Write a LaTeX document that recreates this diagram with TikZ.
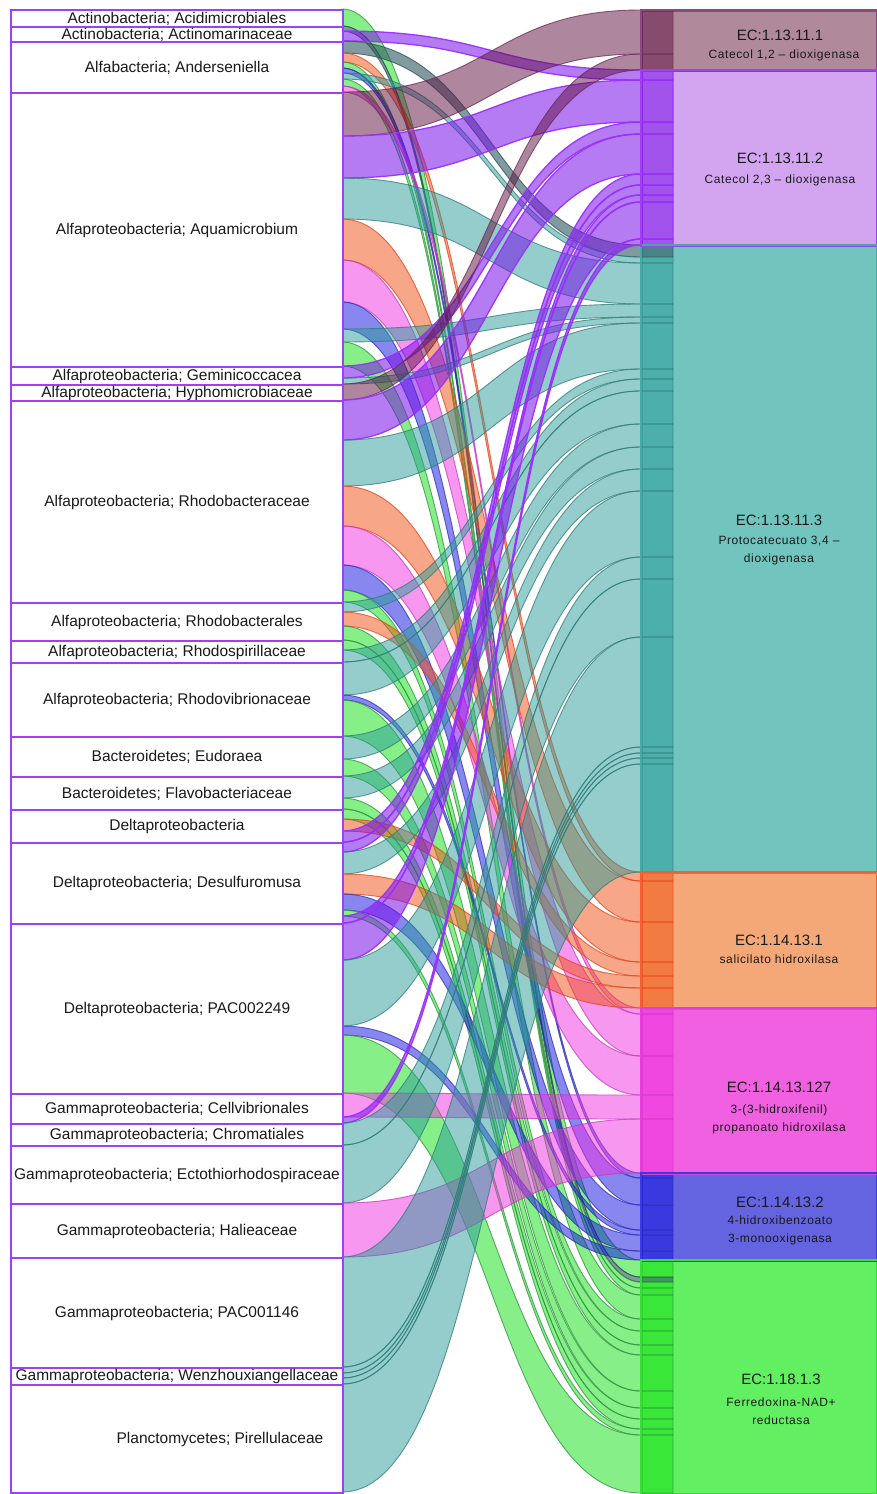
\documentclass[tikz,border=0pt]{standalone}
\usepackage{fontspec}
\setmainfont{Liberation Sans}
\newfontfamily\subfont[LetterSpace=5]{Liberation Sans}

% flow colours (drawn translucent) and their edge colours
\definecolor{cA}{HTML}{5F1040}\definecolor{eA}{HTML}{6A2A55}
\definecolor{cB}{HTML}{7A10E8}\definecolor{eB}{HTML}{9B30FF}
\definecolor{cC}{HTML}{2A9C9A}\definecolor{eC}{HTML}{2F7B78}
\definecolor{cD}{HTML}{F05010}\definecolor{eD}{HTML}{E8401A}
\definecolor{cE}{HTML}{F030E0}\definecolor{eE}{HTML}{C838C0}
\definecolor{cF}{HTML}{1010E0}\definecolor{eF}{HTML}{3030B8}
\definecolor{cG}{HTML}{10E010}\definecolor{eG}{HTML}{2F9040}
\definecolor{cS}{HTML}{2E5860}\definecolor{eS}{HTML}{2E5058}
% enzyme boxes
\definecolor{bA}{HTML}{B0899B}\definecolor{dA}{HTML}{8A4A80}
\definecolor{bB}{HTML}{D3A5F0}\definecolor{dB}{HTML}{A040F0}
\definecolor{bC}{HTML}{72C4BE}\definecolor{dC}{HTML}{4AA8A4}
\definecolor{bD}{HTML}{F4A878}\definecolor{dD}{HTML}{F0603A}
\definecolor{bE}{HTML}{F060E0}\definecolor{dE}{HTML}{E040D8}
\definecolor{bF}{HTML}{6464E0}\definecolor{dF}{HTML}{3C3CD8}
\definecolor{bG}{HTML}{62F062}\definecolor{dG}{HTML}{40D840}
\definecolor{taxline}{HTML}{A040F0}
\definecolor{txt}{HTML}{1A1A1A}

\tikzset{
  flow/.style={line width=0.9pt, fill opacity=0.5, draw opacity=0.75},
  fa/.style={flow, fill=cA, draw=eA},
  fb/.style={flow, fill=cB, draw=eB, line width=1.3pt, fill opacity=0.55, draw opacity=0.95},
  fc/.style={flow, fill=cC, draw=eC},
  fd/.style={flow, fill=cD, draw=eD},
  fe/.style={flow, fill=cE, draw=eE},
  ff/.style={flow, fill=cF, draw=eF},
  fg/.style={flow, fill=cG, draw=eG},
  slate/.style={fill=cS, draw=eS, fill opacity=0.6},
  taxbox/.style={draw=taxline, line width=2pt, fill=white, minimum width=332pt,
    inner sep=0pt, text=txt, font=\fontsize{15.5}{16}\selectfont},
  ecbox/.style={line width=1.5pt, minimum width=235pt, inner sep=0pt},
  ectitle/.style={text=txt, inner sep=0pt, font=\fontsize{15}{18}\selectfont},
  ecsub/.style={text=txt, inner sep=0pt, align=center, font=\subfont\fontsize{12}{18}\selectfont}
}

% running positions: one cursor for the current taxon, one per enzyme
\newcommand\startsrc[1]{\xdef\srccur{#1}}
\newcommand\settgt[2]{\expandafter\xdef\csname tgtcur#1\endcsname{#2}}
\newcommand\fl[3]{%
  \pgfmathsetmacro\fya{\srccur}%
  \pgfmathsetmacro\fyb{\srccur+#2}%
  \edef\ftraw{\csname tgtcur#1\endcsname}%
  \pgfmathsetmacro\fta{\ftraw}%
  \pgfmathsetmacro\ftb{\ftraw+#2}%
  \xdef\srccur{\fyb}%
  \expandafter\xdef\csname tgtcur#1\endcsname{\ftb}%
  \path[f#1,#3] (342,\fya) .. controls (491.5,\fya) and (491.5,\fta) .. (641,\fta)
     -- (673,\fta) -- (673,\ftb) -- (641,\ftb)
     .. controls (491.5,\ftb) and (491.5,\fyb) .. (342,\fyb) -- cycle;%
}
\newcommand\taxon[4]{%
  \pgfmathsetmacro\lbh{#3-#2}%
  \node[taxbox, minimum height=\lbh pt, anchor=north west] (#1) at (10,#2) {#4};}
\newcommand\enzyme[5]{%
  \pgfmathsetmacro\rbh{#3-#2}%
  \node[ecbox, fill=#4, draw=#5, minimum height=\rbh pt, anchor=north west] (#1) at (641,#2) {};}

\begin{document}
\begin{tikzpicture}[x=1pt, y=-1pt]
\useasboundingbox (0,0) rectangle (876,1494);
\fill[white] (0,0) rectangle (876,1494);

% enzyme boxes
\enzyme{ec1}{10}{70}{bA}{dA}
\enzyme{ec2}{70}{245}{bB}{dB}
\enzyme{ec3}{245}{872}{bC}{dC}
\enzyme{ec4}{872}{1008}{bD}{dD}
\enzyme{ec5}{1008}{1173}{bE}{dE}
\enzyme{ec6}{1173}{1260}{bF}{dF}
\enzyme{ec7}{1260}{1493}{bG}{dG}

\settgt{a}{10}\settgt{b}{70}\settgt{c}{245}\settgt{d}{872}
\settgt{e}{1008}\settgt{f}{1173}\settgt{g}{1260}

% flows, taxon by taxon
\startsrc{9}    \fl{g}{17}{}
\startsrc{26}   \fl{g}{5}{slate} \fl{b}{10}{}
\startsrc{41}   \fl{c}{12}{slate} \fl{d}{9}{} \fl{g}{6}{} \fl{f}{5}{} \fl{c}{6}{} \fl{g}{7}{} \fl{e}{6}{}
\startsrc{92}   \fl{a}{44}{} \fl{b}{42}{} \fl{c}{41}{} \fl{d}{41}{} \fl{e}{42}{} \fl{f}{27}{} \fl{c}{13}{} \fl{g}{24}{}
\startsrc{366}  \fl{b}{12}{} \fl{c}{6}{}
\startsrc{384}  \fl{a}{16}{}
\startsrc{400}  \fl{b}{40}{} \fl{c}{46}{} \fl{d}{40}{} \fl{e}{39}{} \fl{f}{25}{} \fl{g}{12}{}
\startsrc{602}  \fl{c}{10}{} \fl{d}{14}{} \fl{g}{14}{}
\startsrc{640}  \fl{g}{10}{} \fl{c}{12}{}
\startsrc{662}  \fl{c}{33}{} \fl{f}{5}{} \fl{g}{36}{}
\startsrc{736}  \fl{c}{23}{} \fl{g}{17}{}
\startsrc{776}  \fl{c}{22}{} \fl{g}{11}{}
\startsrc{809}  \fl{g}{10}{} \fl{d}{12}{} \fl{b}{11}{}
\startsrc{842}  \fl{b}{10}{} \fl{c}{22}{} \fl{d}{20}{} \fl{f}{16}{} \fl{g}{6}{} \fl{b}{7}{}
\startsrc{923}  \fl{b}{37}{} \fl{c}{66}{} \fl{f}{9}{} \fl{g}{58}{}
\startsrc{1093} \fl{e}{24}{} \fl{b}{6}{}
\startsrc{1123} \fl{c}{22}{}
\startsrc{1145} \fl{c}{58}{}
\startsrc{1203} \fl{e}{54}{}
\startsrc{1257} \fl{c}{110}{}
\startsrc{1367} \fl{c}{6}{} \fl{c}{5}{} \fl{c}{6}{}
\startsrc{1384} \fl{c}{108}{}

% enzyme outlines on top of the flow ends
\foreach \n/\c in {ec1/dA,ec2/dB,ec3/dC,ec4/dD,ec5/dE,ec6/dF,ec7/dG}
  \draw[\c, line width=1.5pt] (\n.north west) rectangle (\n.south east);
\draw[dB, line width=1.5pt] (ec2.north west) rectangle (ec2.south east);

% taxa
\taxon{s1}{9}{26}{Actinobacteria; Acidimicrobiales}
\taxon{s2}{26}{41}{Actinobacteria; Actinomarinaceae}
\taxon{s3}{41}{92}{Alfabacteria; Anderseniella}
\taxon{s4}{92}{366}{Alfaproteobacteria; Aquamicrobium}
\taxon{s5}{366}{384}{Alfaproteobacteria; Geminicoccacea}
\taxon{s6}{384}{400}{Alfaproteobacteria; Hyphomicrobiaceae}
\taxon{s7}{400}{602}{Alfaproteobacteria; Rhodobacteraceae}
\taxon{s8}{602}{640}{Alfaproteobacteria; Rhodobacterales}
\taxon{s9}{640}{662}{Alfaproteobacteria; Rhodospirillaceae}
\taxon{s10}{662}{736}{Alfaproteobacteria; Rhodovibrionaceae}
\taxon{s11}{736}{776}{Bacteroidetes; Eudoraea}
\taxon{s12}{776}{809}{Bacteroidetes; Flavobacteriaceae}
\taxon{s13}{809}{842}{Deltaproteobacteria}
\taxon{s14}{842}{923}{Deltaproteobacteria; Desulfuromusa}
\taxon{s15}{923}{1093}{Deltaproteobacteria; PAC002249}
\taxon{s16}{1093}{1123}{Gammaproteobacteria; Cellvibrionales}
\taxon{s17}{1123}{1145}{Gammaproteobacteria; Chromatiales}
\taxon{s18}{1145}{1203}{Gammaproteobacteria; Ectothiorhodospiraceae}
\taxon{s19}{1203}{1257}{Gammaproteobacteria; Halieaceae}
\taxon{s20}{1257}{1367}{Gammaproteobacteria; PAC001146}
\taxon{s21}{1367}{1384}{Gammaproteobacteria; Wenzhouxiangellaceae}
\taxon{s22}{1384}{1492}{\hspace*{86pt}Planctomycetes; Pirellulaceae}

% enzyme labels
\node[ectitle] (t1) at (780,35) {EC:1.13.11.1};
\node[ecsub] (u1) at (784,55) {Catecol 1,2 – dioxigenasa};
\node[ectitle] (t2) at (780,158) {EC:1.13.11.2};
\node[ecsub] (u2) at (780,180) {Catecol 2,3 – dioxigenasa};
\node[ectitle] (t3) at (779,520) {EC:1.13.11.3};
\node[ecsub] (u3) at (779,551) {Protocatecuato 3,4 –\\dioxigenasa};
\node[ectitle] (t4) at (779,940) {EC:1.14.13.1};
\node[ecsub] (u4) at (779,959) {salicilato hidroxilasa};
\node[ectitle] (t5) at (779,1087) {EC:1.14.13.127};
\node[ecsub] (u5) at (779,1119) {3-(3-hidroxifenil)\\propanoato hidroxilasa};
\node[ectitle] (t6) at (780,1202) {EC:1.14.13.2};
\node[ecsub] (u6) at (780,1230) {4-hidroxibenzoato\\3-monooxigenasa};
\node[ectitle] (t7) at (781,1379) {EC:1.18.1.3};
\node[ecsub] (u7) at (781,1411) {Ferredoxina-NAD+\\reductasa};
\end{tikzpicture}
\end{document}
